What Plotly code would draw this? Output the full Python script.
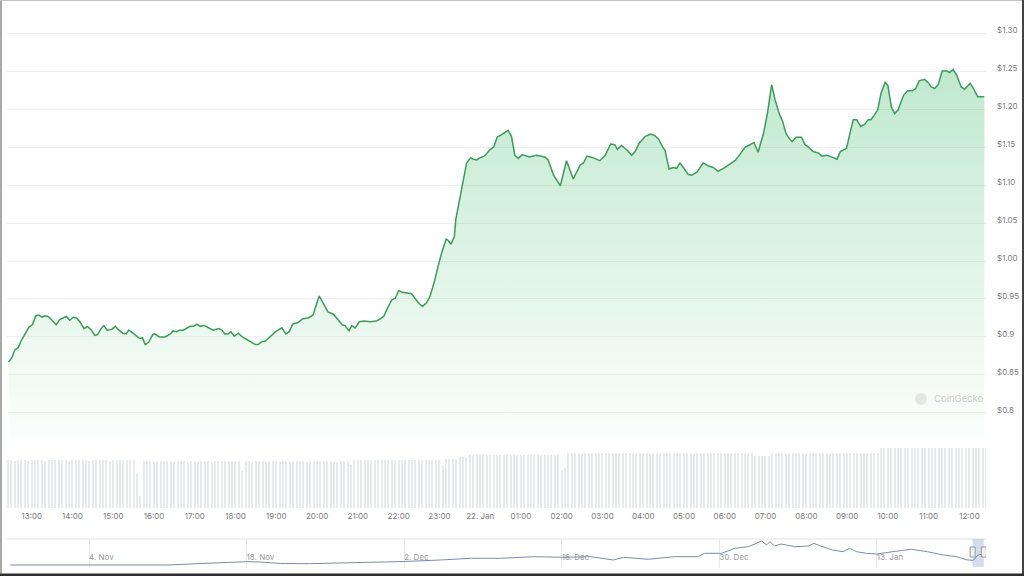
import plotly.graph_objects as go
import pandas as pd

# ---------------- data ----------------
price_times = [
    "12:26", "12:31", "12:35", "12:40", "12:45", "12:52", "12:56", "13:01", "13:06", "13:10",
    "13:15", "13:20", "13:24", "13:29", "13:36", "13:41", "13:46", "13:51", "13:56", "14:01",
    "14:06", "14:11", "14:17", "14:22", "14:27", "14:33", "14:37", "14:42", "14:46", "14:51",
    "14:58", "15:03", "15:07", "15:14", "15:19", "15:23", "15:29", "15:35", "15:39", "15:43",
    "15:47", "15:52", "15:58", "16:01", "16:08", "16:16", "16:24",
    "16:28", "16:33", "16:38", "16:43", "16:53", "16:58", "17:03", "17:08", "17:14", "17:20",
    "17:27", "17:35", "17:40", "17:44", "17:49", "17:53", "17:58", "18:04", "18:10", "18:16",
    "18:23", "18:29", "18:33", "18:39", "18:43", "18:51", "18:59", "19:08", "19:14", "19:19",
    "19:24", "19:32", "19:39", "19:47", "19:54", "20:03", "20:11", "20:16", "20:24",
    "20:31", "20:37", "20:41", "20:47", "20:51", "20:56", "21:02", "21:09", "21:18", "21:27",
    "21:33", "21:38", "21:43", "21:50", "21:55", "22:00", "22:05", "22:12", "22:19", "22:24",
    "22:29", "22:35", "22:41", "22:46", "22:52", "22:58", "23:03", "23:10", "23:13", "23:17",
    "23:22", "23:24", "23:28", "23:34", "23:40", "23:46", "23:50", "23:55", "00:00", "00:06",
    "00:10", "00:15", "00:20", "00:25", "00:31", "00:37", "00:41", "00:46", "00:51", "00:56",
    "01:02", "01:12", "01:23", "01:35", "01:40", "01:48", "01:58", "02:07", "02:17", "02:27",
    "02:32", "02:37", "02:46", "02:56", "03:04", "03:12", "03:18", "03:22", "03:28", "03:36",
    "03:43", "03:48", "03:54", "04:03", "04:11", "04:17", "04:22", "04:30", "04:32", "04:38",
    "04:44", "04:49", "04:54", "04:59", "05:06", "05:11", "05:19", "05:28", "05:36", "05:43",
    "05:50", "05:58", "06:05", "06:15", "06:22", "06:30", "06:37", "06:43", "06:49", "06:57",
    "07:03", "07:09", "07:14", "07:20", "07:25", "07:30", "07:35", "07:39", "07:45", "07:53",
    "07:58", "08:03", "08:10", "08:18", "08:23", "08:30", "08:37", "08:45", "08:50", "08:59",
    "09:09", "09:14", "09:20", "09:26", "09:31", "09:35", "09:40", "09:45", "09:50", "09:56",
    "10:00", "10:05", "10:10", "10:15", "10:23", "10:29", "10:36", "10:41", "10:46", "10:54",
    "10:59", "11:04", "11:09", "11:14", "11:20", "11:27", "11:31", "11:36", "11:41", "11:48",
    "11:53", "12:01", "12:06", "12:12", "12:22",
]

prices = [
    0.867, 0.873, 0.883, 0.886, 0.896, 0.907, 0.913, 0.916, 0.928, 0.929,
    0.926, 0.928, 0.927, 0.923, 0.916, 0.923, 0.925, 0.927, 0.922, 0.926,
    0.925, 0.920, 0.911, 0.914, 0.910, 0.902, 0.903, 0.911, 0.915, 0.909,
    0.910, 0.914, 0.910, 0.905, 0.904, 0.909, 0.905, 0.900, 0.898, 0.899,
    0.890, 0.893, 0.903, 0.904, 0.900, 0.900, 0.904,
    0.908, 0.907, 0.909, 0.909, 0.914, 0.914, 0.917, 0.914, 0.915, 0.912,
    0.909, 0.911, 0.909, 0.904, 0.904, 0.907, 0.901, 0.905, 0.900, 0.897,
    0.893, 0.890, 0.890, 0.894, 0.894, 0.900, 0.907, 0.912, 0.904, 0.907,
    0.917, 0.919, 0.924, 0.925, 0.929, 0.954, 0.940, 0.933, 0.930,
    0.922, 0.916, 0.915, 0.908, 0.915, 0.912, 0.920, 0.921, 0.920, 0.921,
    0.924, 0.927, 0.937, 0.949, 0.951, 0.961, 0.959, 0.958, 0.957, 0.951,
    0.945, 0.940, 0.945, 0.953, 0.971, 0.993, 1.010, 1.029, 1.027, 1.022,
    1.032, 1.054, 1.074, 1.100, 1.129, 1.136, 1.134, 1.133, 1.136, 1.138,
    1.142, 1.147, 1.150, 1.163, 1.166, 1.169, 1.172, 1.164, 1.139, 1.135,
    1.140, 1.137, 1.139, 1.137, 1.133, 1.113, 1.099, 1.132, 1.108, 1.126,
    1.129, 1.138, 1.136, 1.132, 1.139, 1.154, 1.153, 1.147, 1.152, 1.146,
    1.139, 1.144, 1.155, 1.164, 1.167, 1.165, 1.161, 1.148, 1.146, 1.121,
    1.123, 1.122, 1.129, 1.123, 1.114, 1.113, 1.117, 1.129, 1.125, 1.123,
    1.118, 1.122, 1.126, 1.132, 1.140, 1.150, 1.153, 1.156, 1.143, 1.168,
    1.196, 1.232, 1.212, 1.194, 1.184, 1.168, 1.161, 1.157, 1.163, 1.163,
    1.153, 1.150, 1.144, 1.142, 1.138, 1.139, 1.137, 1.134, 1.144, 1.148,
    1.186, 1.186, 1.177, 1.180, 1.186, 1.186, 1.192, 1.199, 1.221, 1.235,
    1.231, 1.203, 1.194, 1.199, 1.218, 1.224, 1.224, 1.227, 1.237, 1.239,
    1.235, 1.229, 1.227, 1.232, 1.250, 1.250, 1.248, 1.252, 1.245, 1.229,
    1.226, 1.234, 1.227, 1.216, 1.216,
]

# 24h volume (million USD), one bar per 5 minutes starting 12:25
volume_start = "2025-01-21 12:25"
volumes = [
    48, 48, 47, 48, 48, 48, 47, 48, 48, 48, 48, 47, 48, 48, 48, 48, 48,
    48, 47, 48, 48, 48, 48, 48, 47, 48, 48, 48, 48, 48, 47, 48, 48, 48,
    48, 48, 48, 48, 34, 12, 47, 47, 47, 47, 47, 47, 47, 47, 47, 47, 47,
    47, 47, 46, 47, 47, 47, 47, 47, 47, 46, 47, 47, 47, 47, 47, 47, 47,
    47, 37, 47, 47, 46, 47, 47, 47, 47, 47, 47, 47, 46, 47, 47, 47, 47,
    47, 47, 47, 46, 47, 47, 47, 47, 47, 47, 47, 47, 46, 47, 47, 47, 43,
    48, 48, 48, 48, 48, 48, 48, 48, 48, 48, 48, 48, 48, 48, 48, 48, 48,
    48, 48, 48, 48, 48, 48, 48, 48, 48, 42, 49, 49, 49, 49, 51, 51, 51,
    53, 53, 53, 53, 53, 53, 53, 53, 53, 53, 53, 53, 53, 53, 53, 53, 53,
    53, 53, 53, 53, 53, 53, 53, 53, 53, 53, 37, 40, 55, 55, 55, 55, 55,
    55, 55, 55, 55, 55, 55, 55, 55, 55, 55, 55, 55, 55, 55, 55, 55, 55,
    55, 55, 55, 55, 55, 55, 55, 55, 55, 55, 55, 55, 55, 55, 55, 55, 55,
    55, 55, 55, 55, 55, 55, 55, 55, 55, 55, 55, 55, 55, 55, 55, 55, 52,
    52, 52, 52, 52, 55, 55, 55, 55, 55, 55, 55, 55, 55, 55, 55, 55, 55,
    55, 55, 55, 55, 55, 55, 55, 55, 55, 55, 55, 55, 55, 55, 55, 55, 55,
    55, 55, 60, 60, 60, 60, 60, 60, 60, 60, 60, 60, 60, 60, 60, 60, 60,
    60, 60, 60, 60, 60, 60, 60, 60, 60, 60, 60, 60, 60, 60, 60, 60, 60,
]

# navigator (3 month overview)
nav_dates = [
    "2024-10-28 00:00", "2024-11-01 00:00", "2024-11-05 00:00", "2024-11-11 00:00",
    "2024-11-14 00:00", "2024-11-18 00:00",
    "2024-11-19 06:00", "2024-11-21 00:00", "2024-11-23 14:00", "2024-11-27 05:00",
    "2024-11-29 22:00", "2024-12-02 00:00", "2024-12-05 05:00", "2024-12-07 22:00",
    "2024-12-10 14:00", "2024-12-13 12:00", "2024-12-16 05:00", "2024-12-18 14:00",
    "2024-12-20 14:00", "2024-12-21 12:00", "2024-12-23 17:00", "2024-12-26 00:00",
    "2024-12-28 02:00", "2024-12-28 17:00", "2024-12-30 05:00", "2024-12-31 10:00",
    "2025-01-01 14:00", "2025-01-02 19:00", "2025-01-03 05:00", "2025-01-03 12:00",
    "2025-01-03 22:00", "2025-01-04 12:00", "2025-01-05 17:00", "2025-01-06 22:00",
    "2025-01-07 10:00", "2025-01-08 00:00", "2025-01-09 02:00", "2025-01-10 00:00",
    "2025-01-10 14:00", "2025-01-11 05:00", "2025-01-12 02:00", "2025-01-13 00:00",
    "2025-01-14 10:00", "2025-01-16 02:00", "2025-01-17 12:00", "2025-01-18 22:00",
    "2025-01-20 02:00", "2025-01-21 00:00", "2025-01-21 14:00", "2025-01-22 00:00",
    "2025-01-22 10:00",
]
nav_prices = [
    0.72, 0.72, 0.705, 0.72,
    0.795, 0.885,
    0.87, 0.795, 0.785, 0.82,
    0.855, 0.895, 0.97, 1.055,
    1.055, 1.135, 1.105, 1.135,
    0.97, 1.105, 1.005, 1.135,
    1.135, 1.305, 1.305, 1.555,
    1.635, 1.92, 1.72, 1.885,
    1.67, 1.77, 1.635, 1.67,
    1.805, 1.67, 1.47, 1.385,
    1.555, 1.385, 1.305, 1.27,
    1.385, 1.505, 1.385, 1.22,
    1.135, 0.98, 0.95, 1.22,
    1.26,
]

hour_ticks = pd.date_range("2025-01-21 13:00", periods=24, freq="h")
hour_tick_text = ["13:00", "14:00", "15:00", "16:00", "17:00", "18:00", "19:00", "20:00",
                  "21:00", "22:00", "23:00", "22. Jan", "01:00", "02:00", "03:00", "04:00",
                  "05:00", "06:00", "07:00", "08:00", "09:00", "10:00", "11:00", "12:00"]
price_ticks = [0.80, 0.85, 0.90, 0.95, 1.00, 1.05, 1.10, 1.15, 1.20, 1.25, 1.30]
price_tick_text = ["$0.8", "$0.85", "$0.9", "$0.95", "$1.00", "$1.05", "$1.10",
                   "$1.15", "$1.20", "$1.25", "$1.30"]
nav_ticks = ["2024-11-04", "2024-11-18", "2024-12-02", "2024-12-16", "2024-12-30", "2025-01-13"]
nav_tick_text = ["4. Nov", "18. Nov", "2. Dec", "16. Dec", "30. Dec", "13. Jan"]

# ---------------- build timestamps ----------------
day = pd.Timestamp("2025-01-21")
ts = []
prev = None
for t in price_times:
    h, m = map(int, t.split(":"))
    if prev is not None and (h, m) < prev:
        day += pd.Timedelta(days=1)
    prev = (h, m)
    ts.append(day + pd.Timedelta(hours=h, minutes=m))
vol_ts = pd.date_range(volume_start, periods=len(volumes), freq="5min")
nav_ts = pd.to_datetime(nav_dates, format="%Y-%m-%d %H:%M")

# ---------------- layout helpers ----------------
W, H = 1024, 576
def fx(px):
    return px / W
def fy(px):
    return 1 - px / H

X_DOM = [fx(7), fx(986)]
TICK_FONT = dict(family="Inter, Roboto, sans-serif", size=8, color="#7a7a7a")

fig = go.Figure()

fig.add_trace(go.Bar(
    x=vol_ts, y=volumes, xaxis="x", yaxis="y2",
    marker=dict(color="#e7e9ed", line=dict(width=0)),
    width=115000, hoverinfo="skip",
))

fig.add_trace(go.Scatter(
    x=ts, y=prices, xaxis="x", yaxis="y", mode="lines",
    line=dict(color="#3a9d5a", width=1.5),
    fill="tozeroy",
    fillgradient=dict(
        type="vertical",
        colorscale=[[0, "rgba(70,190,110,0)"], [1, "rgba(70,190,110,0.34)"]],
        start=0.745, stop=1.25,
    ),
))

fig.add_trace(go.Scatter(
    x=nav_ts, y=nav_prices, xaxis="x3", yaxis="y3",
    mode="lines", line=dict(color="#7d8bb0", width=1), hoverinfo="skip",
))

fig.update_layout(
    width=W, height=H,
    margin=dict(l=0, r=0, t=0, b=0),
    paper_bgcolor="white", plot_bgcolor="white",
    showlegend=False,
    font=dict(family="Inter, Roboto, sans-serif"),
    bargap=0,
    xaxis=dict(
        domain=X_DOM, anchor="y2",
        range=[pd.Timestamp("2025-01-21 12:23:36"), pd.Timestamp("2025-01-22 12:24:24")],
        tickmode="array", tickvals=hour_ticks, ticktext=hour_tick_text,
        showgrid=False, zeroline=False, showline=False, ticks="",
        ticklabelstandoff=2,
        tickfont=TICK_FONT,
    ),
    yaxis=dict(
        domain=[fy(455), fy(10)], anchor="x", side="right",
        range=[0.7447, 1.3303],
        tickmode="array", tickvals=price_ticks, ticktext=price_tick_text,
        showgrid=True, gridcolor="#f0f0f0", gridwidth=1,
        zeroline=False, showline=False, ticks="", ticklen=0,
        ticklabelstandoff=10, ticklabelshift=-3,
        tickfont=TICK_FONT,
    ),
    yaxis2=dict(
        domain=[fy(508), fy(440)], anchor="x", range=[0, 68],
        visible=False, showgrid=False, zeroline=False,
    ),
    xaxis3=dict(
        domain=X_DOM, anchor="y3",
        range=[pd.Timestamp("2024-10-27 17:00"), pd.Timestamp("2025-01-22 17:00")],
        tickmode="array", tickvals=pd.to_datetime(nav_ticks), ticktext=nav_tick_text,
        ticklabelposition="inside right",
        showgrid=True, gridcolor="#e8e8e8", zeroline=False, showline=False, ticks="",
        tickfont=dict(family="Inter, Roboto, sans-serif", size=8, color="#9a9a9a"),
    ),
    yaxis3=dict(
        domain=[fy(568), fy(539)], anchor="x3", range=[0.57, 2.02],
        showgrid=False, zeroline=False, showticklabels=False, ticks="",
    ),
)

shapes = [
    # navigator top border
    dict(type="line", xref="paper", yref="paper", x0=X_DOM[0], x1=X_DOM[1],
         y0=fy(539), y1=fy(539), line=dict(color="#e3e3e3", width=1)),
    # navigator selected range
    dict(type="rect", xref="x3", yref="paper", x0=ts[0], x1=ts[-1],
         y0=fy(567), y1=fy(539), fillcolor="rgba(102,133,194,0.28)", line=dict(width=0),
         layer="above"),
    # watermark logo
    dict(type="circle", xref="paper", yref="paper", x0=fx(915), x1=fx(927),
         y0=fy(405), y1=fy(393), fillcolor="#e6e6e6", line=dict(width=0)),
    # frame
    dict(type="line", xref="paper", yref="paper", x0=fx(1), x1=fx(1), y0=0, y1=1,
         line=dict(color="#a8a8a8", width=2)),
    dict(type="line", xref="paper", yref="paper", x0=0, x1=1, y0=fy(0.5), y1=fy(0.5),
         line=dict(color="#c4c4c4", width=1)),
    dict(type="line", xref="paper", yref="paper", x0=fx(1023), x1=fx(1023), y0=0, y1=1,
         line=dict(color="#444444", width=2)),
    dict(type="line", xref="paper", yref="paper", x0=0, x1=1, y0=fy(575), y1=fy(575),
         line=dict(color="#2e2e2e", width=3)),
]
for anchor in (ts[0], ts[-1]):
    shapes.append(dict(
        type="rect", xref="x3", yref="paper", xsizemode="pixel", ysizemode="pixel",
        xanchor=anchor, yanchor=fy(552), x0=-2.5, x1=2.5, y0=-5, y1=5,
        fillcolor="#f2f2f2", line=dict(color="#999999", width=1), layer="above",
    ))
fig.update_layout(shapes=shapes)

fig.add_annotation(
    xref="paper", yref="paper", x=fx(932), y=fy(398), xanchor="left", yanchor="middle",
    text="CoinGecko", showarrow=False,
    font=dict(family="Inter, Roboto, sans-serif", size=9.5, color="#cccccc"),
)

fig.write_html("out.html")
